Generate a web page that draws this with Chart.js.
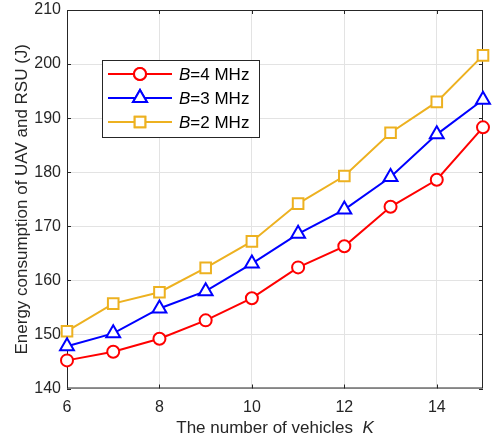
<!DOCTYPE html>
<html>
<head>
<meta charset="utf-8">
<script src="https://cdn.jsdelivr.net/npm/chart.js@4/dist/chart.umd.min.js"></script>
<style>
  html, body { margin: 0; padding: 0; background: #fff; }
  #wrap { width: 493px; height: 443px; }
</style>
</head>
<body>
<div id="wrap"><canvas id="energyChart" width="493" height="443"></canvas></div>
<script>
const vehicles = [6, 7, 8, 9, 10, 11, 12, 13, 14, 15];
const energyB4 = [145.2, 146.8, 149.2, 152.6, 156.7, 162.4, 166.3, 173.6, 178.6, 188.3];
const energyB3 = [147.8, 150.2, 154.8, 158.0, 163.1, 168.6, 173.1, 179.1, 187.0, 193.4];
const energyB2 = [150.6, 155.7, 157.8, 162.3, 167.2, 174.2, 179.3, 187.3, 193.0, 201.6];
const xTicks = [6, 8, 10, 12, 14];
const yTicks = [140, 150, 160, 170, 180, 190, 200, 210];
const seriesNames = ["=4 MHz", "=3 MHz", "=2 MHz"];

const FONT = "'Liberation Sans', Arial, sans-serif";
const AXIS_COLOR = "#262626";

function toPoints(values) {
  return vehicles.map((v, i) => ({ x: v, y: values[i] }));
}

function makeSeries(label, values, color, style, radius) {
  return {
    label: label,
    data: toPoints(values),
    borderColor: color,
    backgroundColor: color,
    borderWidth: 2,
    pointStyle: style,
    pointRadius: radius,
    pointBorderWidth: 2,
    pointBorderColor: color,
    pointBackgroundColor: "#ffffff",
    clip: false,
    tension: 0,
  };
}

// box + inward ticks like MATLAB
const boxPlugin = {
  id: "box",
  beforeDatasetsDraw(chart) {
    const { ctx, chartArea: a, scales } = chart;
    ctx.save();
    ctx.strokeStyle = AXIS_COLOR;
    ctx.lineWidth = 1;
    ctx.strokeRect(a.left + 0.5, a.top + 0.5, a.right - a.left - 1, a.bottom - a.top - 1);
    ctx.beginPath();
    xTicks.forEach((t) => {
      const px = Math.round(scales.x.getPixelForValue(t)) + 0.5;
      ctx.moveTo(px, a.bottom);
      ctx.lineTo(px, a.bottom - 4);
      ctx.moveTo(px, a.top);
      ctx.lineTo(px, a.top + 4);
    });
    yTicks.forEach((t) => {
      const py = Math.round(scales.y.getPixelForValue(t)) + 0.5;
      ctx.moveTo(a.left, py);
      ctx.lineTo(a.left + 4, py);
      ctx.moveTo(a.right, py);
      ctx.lineTo(a.right - 4, py);
    });
    ctx.stroke();
    ctx.restore();
  },
  afterDraw(chart) {
    const { ctx, chartArea: a } = chart;
    ctx.save();
    ctx.fillStyle = AXIS_COLOR;
    // x title with italic K
    ctx.textBaseline = "middle";
    const xt = "The number of vehicles  ";
    ctx.font = "17px " + FONT;
    const w1 = ctx.measureText(xt).width;
    ctx.font = "italic 17px " + FONT;
    const w2 = ctx.measureText("K").width;
    const sx = (a.left + a.right) / 2 - (w1 + w2) / 2;
    ctx.textAlign = "left";
    ctx.font = "17px " + FONT;
    ctx.fillText(xt, sx, 428);
    ctx.font = "italic 17px " + FONT;
    ctx.fillText("K", sx + w1, 428);
    // y title
    ctx.translate(22, (a.top + a.bottom) / 2);
    ctx.rotate(-Math.PI / 2);
    ctx.textAlign = "center";
    ctx.font = "17px " + FONT;
    ctx.fillText("Energy consumption of UAV and RSU (J)", 0, 0);
    ctx.restore();

    // legend
    const lx = 102, ly = 60, lw = 157, lh = 77;
    ctx.save();
    ctx.fillStyle = "#ffffff";
    ctx.fillRect(lx, ly, lw, lh);
    ctx.strokeStyle = AXIS_COLOR;
    ctx.lineWidth = 1;
    ctx.strokeRect(lx + 0.5, ly + 0.5, lw, lh);
    chart.data.datasets.forEach((ds, i) => {
      const y = 74 + i * 24;
      ctx.strokeStyle = ds.borderColor;
      ctx.lineWidth = 2;
      ctx.beginPath();
      ctx.moveTo(108, y);
      ctx.lineTo(172, y);
      ctx.stroke();
      Chart.helpers.drawPoint(ctx, {
        pointStyle: ds.pointStyle,
        radius: ds.pointRadius,
        borderWidth: 2,
        rotation: 0,
      }, 140, y);
      ctx.fillStyle = "#ffffff";
      ctx.fill();
      ctx.stroke();
      ctx.fillStyle = "#000000";
      ctx.textBaseline = "middle";
      ctx.textAlign = "left";
      ctx.font = "italic 17px " + FONT;
      ctx.fillText("B", 179, y + 1);
      const bw = ctx.measureText("B").width;
      ctx.font = "17px " + FONT;
      ctx.fillText(seriesNames[i], 179 + bw, y + 1);
    });
    ctx.restore();
  },
};

new Chart(document.getElementById("energyChart").getContext("2d"), {
  type: "line",
  data: {
    datasets: [
      makeSeries("B=4 MHz", energyB4, "#ff0000", "circle", 6),
      makeSeries("B=3 MHz", energyB3, "#0000ff", "triangle", 8),
      makeSeries("B=2 MHz", energyB2, "#edb120", "rect", 7.5),
    ],
  },
  options: {
    responsive: false,
    animation: false,
    layout: { padding: { top: 8, right: 2, left: 0, bottom: 0 } },
    plugins: { legend: { display: false }, tooltip: { enabled: false } },
    scales: {
      x: {
        type: "linear",
        min: 6,
        max: 15,
        afterBuildTicks: (s) => { s.ticks = xTicks.map((v) => ({ value: v })); },
        afterFit: (s) => { s.height = 54.5; s.paddingLeft = 0; s.paddingRight = 0; },
        grid: { color: "#e3e3e3", drawTicks: false },
        border: { display: false },
        ticks: { color: AXIS_COLOR, font: { family: FONT, size: 16 }, padding: 9, maxRotation: 0 },
      },
      y: {
        min: 140,
        max: 210,
        afterBuildTicks: (s) => { s.ticks = yTicks.map((v) => ({ value: v })); },
        afterFit: (s) => { s.width = 67; s.paddingTop = 0; s.paddingBottom = 0; },
        grid: { color: "#e3e3e3", drawTicks: false },
        border: { display: false },
        ticks: { color: AXIS_COLOR, font: { family: FONT, size: 16 }, padding: 6 },
      },
    },
  },
  plugins: [boxPlugin],
});
</script>
</body>
</html>
